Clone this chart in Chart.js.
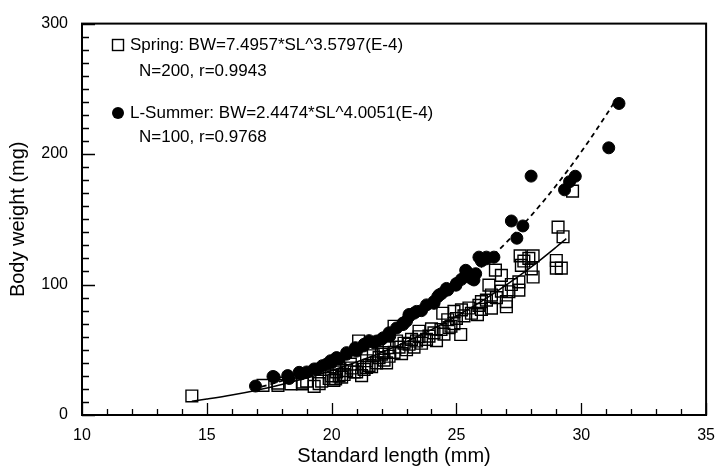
<!DOCTYPE html>
<html><head><meta charset="utf-8">
<script src="https://cdn.jsdelivr.net/npm/chart.js@4.4.1/dist/chart.umd.min.js"></script>
<style>html,body{margin:0;padding:0;background:#fff;}</style>
</head><body>
<canvas id="c" width="726" height="468" style="display:block;width:726px;height:468px"></canvas>
<script>
// ---- data ----
const springSL = [14.4,17.25,17.85,17.85,18.37,18.83,18.83,19.0,19.3,19.5,19.6,19.9,20.0,20.09,20.16,20.2,20.3,20.4,20.5,20.6,20.75,20.8,20.9,21.0,21.08,21.2,21.3,21.4,21.4,21.5,21.6,21.67,21.8,21.9,22.0,22.07,22.1,22.2,22.3,22.3,22.5,22.5,22.6,22.7,22.8,22.9,23.0,23.1,23.2,23.3,23.4,23.5,23.5,23.6,23.8,23.9,24.0,24.1,24.2,24.38,24.45,24.5,24.65,24.7,24.78,24.9,24.9,25.0,25.17,25.2,25.3,25.5,25.6,25.84,25.9,26.0,26.0,26.2,26.3,26.4,26.4,26.56,26.6,26.8,26.8,27.0,27.0,27.1,27.2,27.5,27.5,27.55,27.6,27.7,27.9,28.0,28.07,28.07,29.0,29.0,29.2,29.07,29.27,29.65];
const springBW = [14.6,22.7,24.4,22.7,23.9,25.2,23.9,26,21.9,24,26,28,30,26.5,27.7,33,30,29,31,34,39,36,33,33,56.7,30.2,35,36.5,41.6,38,37,45.4,40,44,46.6,47.8,42,40,51.6,45,68,48,56.7,52,47,55,50,54.2,58,52,56.7,64.2,60,55,58,60.5,66,63,57,65.5,78,62,73,67,68,79.4,70,74,61.7,80.6,76,82,78,76.9,84,86.9,81,88,99.5,92,81.9,111,90,107,95,86.9,83,94.5,100,102,95.7,122,114.7,118,120,112,122,105.8,118.4,112.6,112.6,144,136.6,171.6];
const summerSL = [16.95,17.65,17.7,18.24,18.3,18.77,18.7,19.0,19.3,19.43,19.63,19.8,19.96,20.0,20.2,20.3,20.6,20.6,20.95,21.0,21.28,21.3,21.5,21.7,21.8,22.0,22.07,22.3,22.33,22.6,22.86,22.86,23.0,23.1,23.1,23.3,23.4,23.6,23.8,24.1,24.1,24.25,24.3,24.4,24.65,24.6,24.98,25.0,25.2,25.37,25.4,25.6,25.7,25.77,25.9,26.0,26.2,26.2,26.5,27.2,27.42,27.66,27.99,29.33,29.53,29.76,31.1,31.51];
const summerBW = [22.2,29.5,29,30.2,28,31.5,32.7,33,35.3,35.3,37.8,39,41.6,40,44,42.8,47.8,46.6,51.6,49,52.9,54.2,57,55.4,56.7,58,59.2,63,60.5,66.7,69.3,70.5,72,75.6,77,78,79.4,80,84.4,85.6,87,90.7,92,93,95.8,97,99.5,100.8,104,110.9,110,104.6,103.5,108.3,121,118,119.7,121,121,148.7,135.5,144.9,183.1,172.6,178.8,183,204.8,238.8];
// fitted curves
const springFitSL = [14.4,15,16,17,18,19,20,21,22,23,24,25,26,27,28,29,29.4];
const springFitBW = [10.5,12.2,15.3,19.0,23.4,28.3,34.1,40.6,47.9,56.2,65.4,75.7,87.1,99.7,113.5,128.8,135.2];
const summerFitSL = [17.2,18,19,20,21,22,23,24,25,26,27,28,29,30,31,31.3];
const summerFitBW = [21.7,26.1,32.4,39.8,48.3,58.2,69.6,82.6,97.2,113.7,132.3,153.0,176.1,201.7,230.0,239.0];
const xMajorTicks = [10,15,20,25,30,35];
const yMajorTicks = [0,100,200,300];
const legendLines = [
  {marker:'rect', text:'Spring: BW=7.4957*SL^3.5797(E-4)', sub:'N=200, r=0.9943'},
  {marker:'circle', text:'L-Summer: BW=2.4474*SL^4.0051(E-4)', sub:'N=100, r=0.9768'}
];
const xTitle = 'Standard length (mm)';
const yTitle = 'Body weight (mg)';

const toPts = (xs, ys) => xs.map((x, i) => ({x, y: ys[i]}));
const FONT = "'Liberation Sans', Arial, sans-serif";

const framePlugin = {
  id: 'frame',
  afterDatasetsDraw(chart) {
    const {ctx, chartArea: a, scales: {x, y}} = chart;
    ctx.save();
    ctx.strokeStyle = '#000';
    ctx.lineWidth = 1.3;
    ctx.beginPath();
    x.ticks.forEach(t => {
      const px = Math.round(x.getPixelForValue(t.value)) + 0.5;
      const len = xMajorTicks.includes(t.value) ? 12 : 6;
      ctx.moveTo(px, a.bottom); ctx.lineTo(px, a.bottom - len);
    });
    y.ticks.forEach(t => {
      const py = Math.round(y.getPixelForValue(t.value)) + 0.5;
      const len = yMajorTicks.includes(t.value) ? 13 : 7;
      ctx.moveTo(a.left, py); ctx.lineTo(a.left + len, py);
    });
    ctx.stroke();
    ctx.lineWidth = 2;
    ctx.strokeRect(a.left, a.top, a.right - a.left, a.bottom - a.top);
    // legend
    ctx.fillStyle = '#000';
    ctx.font = "17px " + FONT;
    ctx.textBaseline = 'middle';
    ctx.textAlign = 'left';
    const rows = [[45, 71], [113, 137]];
    legendLines.forEach((l, i) => {
      const [y1, y2] = rows[i];
      if (l.marker === 'rect') {
        ctx.lineWidth = 1.4;
        ctx.strokeRect(112.5, y1 - 5.5, 11, 11);
      } else {
        ctx.beginPath(); ctx.arc(118, y1, 6, 0, Math.PI * 2); ctx.fill();
      }
      ctx.fillText(l.text, 130, y1);
      ctx.fillText(l.sub, 139, y2);
    });
    ctx.restore();
  }
};

new Chart(document.getElementById('c'), {
  type: 'scatter',
  data: {
    datasets: [
      {label: 'Spring', data: toPts(springSL, springBW), pointStyle: 'rect', pointRadius: 8.3,
       backgroundColor: 'rgba(0,0,0,0)', borderColor: '#000', borderWidth: 1.4, order: 1},
      {label: 'L-Summer', data: toPts(summerSL, summerBW), pointStyle: 'circle', pointRadius: 6,
       backgroundColor: '#000', borderColor: '#000', borderWidth: 1, order: 2},
      {label: 'Spring fit', type: 'line', data: toPts(springFitSL, springFitBW), showLine: true,
       borderColor: '#000', borderWidth: 1.5, pointRadius: 0, cubicInterpolationMode: 'monotone', fill: false, order: 3},
      {label: 'Summer fit', type: 'line', data: toPts(summerFitSL, summerFitBW), showLine: true,
       borderColor: '#000', borderWidth: 1.8, borderDash: [5, 4], pointRadius: 0, cubicInterpolationMode: 'monotone', fill: false, order: 4}
    ]
  },
  options: {
    responsive: false,
    animation: false,
    devicePixelRatio: 1,
    layout: {padding: {left: 0, right: 13, top: 18, bottom: 0}},
    plugins: {legend: {display: false}, tooltip: {enabled: false}},
    scales: {
      x: {
        type: 'linear', min: 10, max: 35,
        afterFit: s => { s.height = 53; },
        border: {display: false},
        grid: {display: true, drawOnChartArea: false, drawTicks: false, color: 'rgba(0,0,0,0)'},
        ticks: {stepSize: 1, autoSkip: false, maxRotation: 0, padding: 11, color: '#000',
                font: {family: FONT, size: 16},
                callback: v => xMajorTicks.includes(v) ? String(v) : ''},
        title: {display: true, text: xTitle, color: '#000', font: {family: FONT, size: 20, lineHeight: 1.2},
                padding: {top: 0, bottom: 0}}
      },
      y: {
        type: 'linear', min: 0, max: 300,
        afterFit: s => { s.width = 82; },
        border: {display: false},
        grid: {display: true, drawOnChartArea: false, drawTicks: false, color: 'rgba(0,0,0,0)'},
        ticks: {stepSize: 10, autoSkip: false, padding: 14, color: '#000',
                font: {family: FONT, size: 16},
                callback: v => yMajorTicks.includes(v) ? String(v) : ''},
        title: {display: true, text: yTitle, color: '#000', font: {family: FONT, size: 20, lineHeight: 1.2},
                padding: {top: 6, bottom: 0}}
      }
    }
  },
  plugins: [framePlugin]
});
</script>
</body></html>
